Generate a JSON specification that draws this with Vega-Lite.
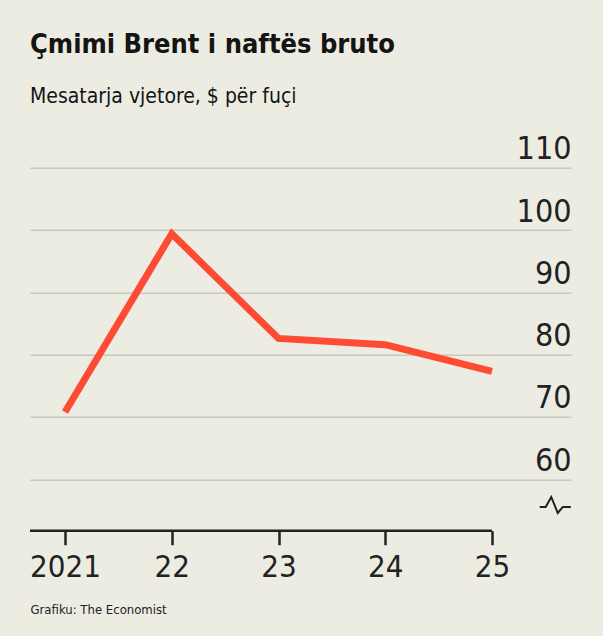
{
  "$schema": "https://vega.github.io/schema/vega-lite/v6.json",
  "width": 541,
  "height": 363,
  "autosize": {"type": "none"},
  "padding": {"left": 30, "top": 167.7, "right": 32, "bottom": 105.3},
  "background": "#EDECE2",
  "title": {
    "text": "Çmimi Brent i naftës bruto",
    "subtitle": "Mesatarja vjetore, $ për fuçi",
    "anchor": "start",
    "frame": "group",
    "font": "'DejaVu Sans Condensed', sans-serif",
    "fontWeight": "bold",
    "fontSize": 27,
    "color": "#141414",
    "subtitleFont": "'DejaVu Sans Condensed', sans-serif",
    "subtitleFontSize": 21,
    "subtitleColor": "#141414",
    "subtitlePadding": 27,
    "offset": 25
  },
  "config": {"view": {"stroke": null}},
  "datasets": {
    "brent": [
      {"year": 2021, "price": 70.8},
      {"year": 2022, "price": 99.4},
      {"year": 2023, "price": 82.6},
      {"year": 2024, "price": 81.6},
      {"year": 2025, "price": 77.3}
    ],
    "baseline": [{"x": 2020.672, "x2": 2025, "y": 51.75}],
    "brk": [
      {"i": 1, "x": 2025.447, "y": 55.56},
      {"i": 2, "x": 2025.503, "y": 55.56},
      {"i": 3, "x": 2025.555, "y": 57.16},
      {"i": 4, "x": 2025.616, "y": 54.59},
      {"i": 5, "x": 2025.663, "y": 55.56},
      {"i": 6, "x": 2025.738, "y": 55.56}
    ]
  },
  "resolve": {"scale": {"x": "shared", "y": "shared"}},
  "layer": [
    {
      "data": {"name": "brent"},
      "mark": {"type": "line", "color": "#FF4B33", "strokeWidth": 7, "strokeJoin": "miter", "strokeCap": "butt", "clip": false},
      "encoding": {
        "x": {
          "field": "year", "type": "quantitative",
          "scale": {"domain": [2020.672, 2025.74], "nice": false, "zero": false},
          "axis": {
            "orient": "bottom",
            "values": [2021, 2022, 2023, 2024, 2025],
            "labelExpr": "datum.value == 2021 ? '2021' : substring(toString(datum.value), 2)",
            "domain": false,
            "grid": false,
            "ticks": true,
            "tickSize": 14,
            "tickWidth": 2.5,
            "tickColor": "#222222",
            "labelFont": "'DejaVu Sans Condensed', sans-serif",
            "labelFontSize": 31,
            "labelColor": "#222222",
            "labelPadding": 8,
            "labelFlush": false,
            "labelOverlap": false,
            "title": "Grafiku: The Economist",
            "titleAnchor": "start",
            "titleAlign": "left",
            "titleFont": "'DejaVu Sans Condensed', sans-serif",
            "titleFontSize": 13,
            "titleFontWeight": "normal",
            "titleColor": "#222222",
            "titlePadding": 21
          }
        },
        "y": {
          "field": "price", "type": "quantitative",
          "scale": {"domain": [51.75, 110], "nice": false, "zero": false},
          "axis": {
            "orient": "right",
            "values": [60, 70, 80, 90, 100, 110],
            "domain": false,
            "ticks": false,
            "grid": true,
            "gridColor": "#C9C8BF",
            "gridWidth": 1.5,
            "labelAlign": "right",
            "labelBaseline": "alphabetic",
            "labelPadding": 0,
            "labelOffset": -9,
            "labelFont": "'DejaVu Sans Condensed', sans-serif",
            "labelFontSize": 32,
            "labelColor": "#222222",
            "labelFlush": false,
            "labelOverlap": false,
            "title": null
          }
        }
      }
    },
    {
      "data": {"name": "baseline"},
      "mark": {"type": "rule", "color": "#222222", "strokeWidth": 2.5},
      "encoding": {
        "x": {"field": "x", "type": "quantitative"},
        "x2": {"field": "x2"},
        "y": {"field": "y", "type": "quantitative"}
      }
    },
    {
      "data": {"name": "brk"},
      "mark": {"type": "line", "color": "#222222", "strokeWidth": 2, "clip": false},
      "encoding": {
        "x": {"field": "x", "type": "quantitative"},
        "y": {"field": "y", "type": "quantitative"},
        "order": {"field": "i"}
      }
    }
  ]
}
